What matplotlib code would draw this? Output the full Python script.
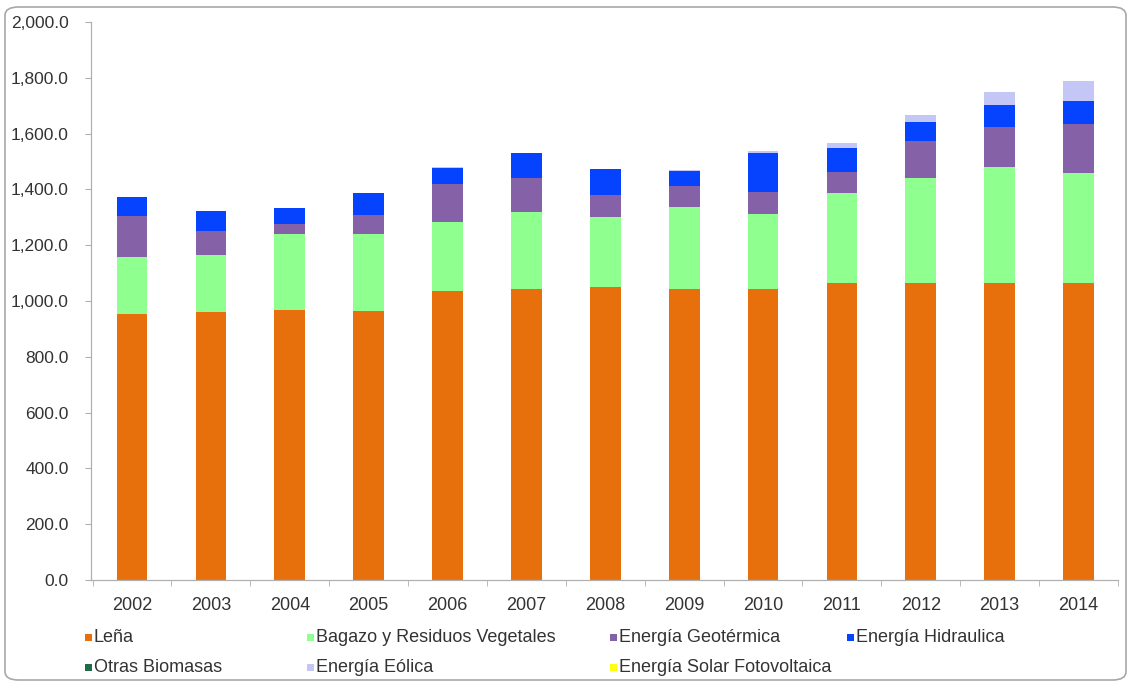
import matplotlib.pyplot as plt
import numpy as np
from matplotlib.patches import FancyBboxPatch, Rectangle
from matplotlib.ticker import FuncFormatter, FixedLocator

plt.rcParams['font.family'] = ['Liberation Sans', 'DejaVu Sans']

years = ['2002', '2003', '2004', '2005', '2006', '2007', '2008',
         '2009', '2010', '2011', '2012', '2013', '2014']

lena = [952, 959, 969, 965, 1037, 1043, 1050, 1043, 1043, 1065, 1065, 1065, 1065]
bagazo = [205, 207, 270, 275, 245, 276, 251, 293, 269, 322, 376, 415, 394]
geotermica = [147, 84, 37, 68, 137, 122, 79, 75, 78, 75, 132, 144, 175]
hidraulica = [70, 73, 58, 79, 58, 89, 93, 56, 140, 86, 69, 79, 83]
otras_biomasas = [0, 0, 0, 0, 0, 0, 0, 0, 0, 0, 0, 0, 0]
eolica = [0, 0, 0, 0, 3, 2, 1, 1, 8, 18, 25, 46, 72]
solar = [0, 0, 0, 0, 0, 0, 0, 0, 0, 0, 0, 0, 0]

series = [
    ('Leña', lena, '#E8700C'),
    ('Bagazo y Residuos Vegetales', bagazo, '#8FFF8F'),
    ('Energía Geotérmica', geotermica, '#8562A8'),
    ('Energía Hidraulica', hidraulica, '#0543FF'),
    ('Otras Biomasas', otras_biomasas, '#1E6B4A'),
    ('Energía Eólica', eolica, '#C4C6F6'),
    ('Energía Solar Fotovoltaica', solar, '#FFFF10'),
]

fig = plt.figure(figsize=(11.32, 6.85), dpi=100)
ax = fig.add_axes([0.0804, 0.1533, 0.9072, 0.8146])

x = np.arange(len(years))
bottom = np.zeros(len(years))
for name, vals, col in series:
    vals = np.array(vals, dtype=float)
    ax.bar(x, vals, width=0.39, bottom=bottom, color=col, linewidth=0)
    bottom += vals

ax.set_xlim(-0.52, 12.45)
ax.set_ylim(0, 2000)
ax.yaxis.set_major_locator(FixedLocator(np.arange(0, 2001, 200)))
ax.yaxis.set_major_formatter(FuncFormatter(lambda v, p: f'{v:,.1f}'))
ax.set_xticks(x)
ax.set_xticklabels(years)
ax.set_xticks(np.arange(-0.5, 12.6, 1), minor=True)
ax.tick_params(axis='x', which='major', length=0, pad=12, labelsize=13, colors='#333333')
ax.tick_params(axis='x', which='minor', length=4, color='#B0B0B0')
ax.tick_params(axis='y', length=4, color='#B0B0B0', labelcolor='#333333',
               labelsize=12.5, pad=12)

for side in ['top', 'right']:
    ax.spines[side].set_visible(False)
for side in ['left', 'bottom']:
    ax.spines[side].set_color('#B0B0B0')
    ax.spines[side].set_linewidth(0.9)

# legend drawn as fixed grid of entries below the axis
W, H = 1132, 685
slots = [(88, 637), (310, 637), (613, 637), (850, 637),
         (88, 667), (310, 667), (613, 667)]
for (name, vals, col), (px, py) in zip(series, slots):
    fig.patches.append(Rectangle(((px - 3) / W, 1 - (py + 3.5) / H), 7 / W, 7 / H,
                                 transform=fig.transFigure, color=col, linewidth=0))
    fig.text((px + 6) / W, 1 - py / H, name, fontsize=13, color='#333333',
             va='center', ha='left')

# rounded frame around the chart
frame = FancyBboxPatch((5 / W, 5 / H), 1121 / W, 673 / H,
                       boxstyle='round,pad=0,rounding_size=0.012',
                       transform=fig.transFigure, facecolor='none',
                       edgecolor='#A8A8A8', linewidth=1.2)
fig.patches.append(frame)

fig.savefig('out.png', dpi=100, facecolor='white')
